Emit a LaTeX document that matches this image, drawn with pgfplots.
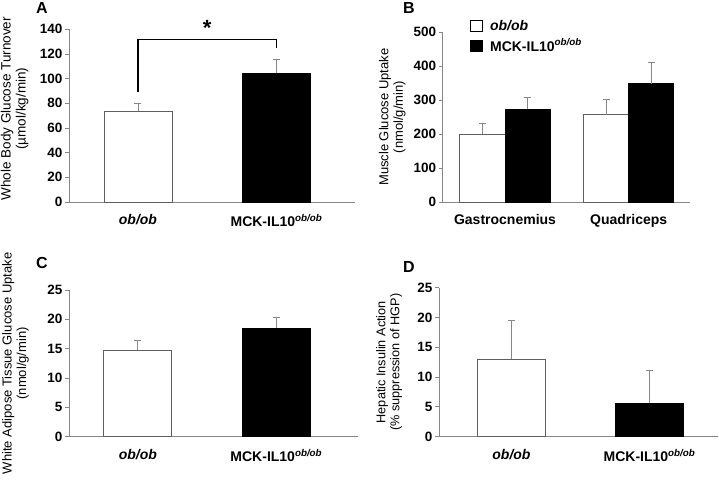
\documentclass[border=0pt]{standalone}
\usepackage{fontspec}
\setmainfont{Liberation Sans}
\usepackage{pgfplots}
\pgfplotsset{compat=1.18}
\definecolor{axgray}{RGB}{135,135,135}
\definecolor{outl}{RGB}{95,95,95}
\pgfplotsset{
 panel/.style={
  scale only axis,
  anchor=south west,
  axis x line=bottom, axis y line=left,
  axis line style={-, draw=axgray, line width=0.9pt},
  ymin=0,
  tick align=outside, major tick length=4pt,
  ytick style={draw=axgray, line width=0.9pt},
  xtick style={draw=none},
  /pgf/number format/assume math mode=true,
  yticklabel style={font=\bfseries\fontsize{13.5}{15}\selectfont, xshift=1pt},
  xticklabel style={font=\bfseries\fontsize{14}{16}\selectfont, yshift=-5pt},
  ylabel style={font=\fontsize{13}{14.5}\selectfont, align=center, anchor=center},
  clip=false,
 },
 errstyle/.style={
  /pgfplots/error bars/y dir=plus, /pgfplots/error bars/y explicit,
  /pgfplots/error bars/error bar style={draw=axgray, line width=0.9pt},
  /pgfplots/error bars/error mark options={draw=axgray, line width=0.9pt, mark size=3.5pt, rotate=90}},
 wbar/.style={ybar, bar shift=0pt, fill=white, draw=outl, line width=0.9pt, errstyle},
 kbar/.style={ybar, bar shift=0pt, fill=black, draw=black, line width=0.9pt, errstyle},
}
\begin{document}
\begin{tikzpicture}
\path[use as bounding box] (0pt,0pt) rectangle (719pt,483pt);
% Panel A
\begin{axis}[panel, at={(69pt,281pt)}, width=286pt, height=172.7pt,
  xmin=-0.498, xmax=1.567, ymax=140, ytick={0,20,...,140},
  xtick={0,1}, xticklabels={\textit{ob/ob}, MCK-IL10\textsuperscript{\textit{ob/ob}}},
  ylabel={Whole Body Glucose Turnover\\(µmol/kg/min)},
  ylabel style={at={(axis description cs:-0.19,0.54)}, font=\fontsize{13.5}{15}\selectfont}]
\addplot[wbar, bar width=0.491] table[x=x, y=y, y error=e] {
x y e
0 73.5 6.2
};
\addplot[kbar, bar width=0.491] table[x=x, y=y, y error=e] {
x y e
1 104.5 11.1
};
\addplot[black, line width=1.3pt, no markers] coordinates {(0,89.4) (0,132) (1,132) (1,125)};
\node[font=\bfseries\fontsize{22}{22}\selectfont] at (axis cs:0.5,141.5) {*};
\end{axis}
\node[font=\bfseries\fontsize{16}{16}\selectfont] at (42pt,475pt) {A};
% Panel B
\begin{axis}[panel, at={(442.7pt,281pt)}, width=247.3pt, height=169.7pt,
  xmin=-0.504, xmax=1.496, ymax=500, ytick={0,100,...,500},
  xtick={0,1}, xticklabels={Gastrocnemius, Quadriceps},
  ylabel={Muscle Glucose Uptake\\(nmol/g/min)},
  ylabel style={at={(axis description cs:-0.204,0.5)}},
  legend style={at={(axis description cs:0.108,1.085)}, anchor=north west, draw=none, fill=none,
    font=\bfseries\fontsize{14}{16}\selectfont, row sep=3pt, inner sep=0pt,
    /tikz/every odd column/.append style={column sep=5pt}},
  legend cell align=left]
\addplot[wbar, bar width=0.366,
  legend image code/.code={\draw[fill=white, draw=black, line width=0.9pt] (0pt,-5.5pt) rectangle (12.6pt,5.5pt);}]
  table[x=x, y=y, y error=e] {
x y e
-0.183 200.4 29.6
0.817 257 46.6
};
\addlegendentry{\textit{ob/ob}}
\addplot[kbar, bar width=0.366,
  legend image code/.code={\draw[fill=black, draw=black, line width=0.9pt] (0pt,-5.5pt) rectangle (12.6pt,5.5pt);}]
  table[x=x, y=y, y error=e] {
x y e
0.183 273 34
1.183 348 63.7
};
\addlegendentry{MCK-IL10\textsuperscript{\textit{ob/ob}}}
\end{axis}
\node[font=\bfseries\fontsize{16}{16}\selectfont] at (409pt,475pt) {B};
% Panel C
\begin{axis}[panel, at={(69pt,46.3pt)}, width=289pt, height=146.7pt,
  xmin=-0.498, xmax=1.59, ymax=25, ytick={0,5,...,25},
  xtick={0,1}, xticklabels={\textit{ob/ob}, MCK-IL10\textsuperscript{\textit{ob/ob}}},
  ylabel={White Adipose Tissue Glucose Uptake\\(nmol/g/min)},
  ylabel style={at={(axis description cs:-0.185,0.5)}}]
\addplot[wbar, bar width=0.491] table[x=x, y=y, y error=e] {
x y e
0 14.7 1.7
};
\addplot[kbar, bar width=0.491] table[x=x, y=y, y error=e] {
x y e
1 18.5 1.9
};
\end{axis}
\node[font=\bfseries\fontsize{16}{16}\selectfont] at (42pt,220pt) {C};
% Panel D
\begin{axis}[panel, at={(439pt,46.3pt)}, width=279pt, height=149pt,
  xmin=-0.525, xmax=1.496, ymax=25, ytick={0,5,...,25},
  xtick={0,1}, xticklabels={\textit{ob/ob}, MCK-IL10\textsuperscript{\textit{ob/ob}}},
  ylabel={Hepatic Insulin Action\\(\% suppression of HGP)},
  ylabel style={at={(axis description cs:-0.179,0.5)}, font=\fontsize{12.7}{14}\selectfont}]
\addplot[wbar, bar width=0.496] table[x=x, y=y, y error=e] {
x y e
0 13.0 6.5
};
\addplot[kbar, bar width=0.496] table[x=x, y=y, y error=e] {
x y e
1 5.6 5.5
};
\end{axis}
\node[font=\bfseries\fontsize{16}{16}\selectfont] at (409pt,216.3pt) {D};
\end{tikzpicture}
\end{document}
